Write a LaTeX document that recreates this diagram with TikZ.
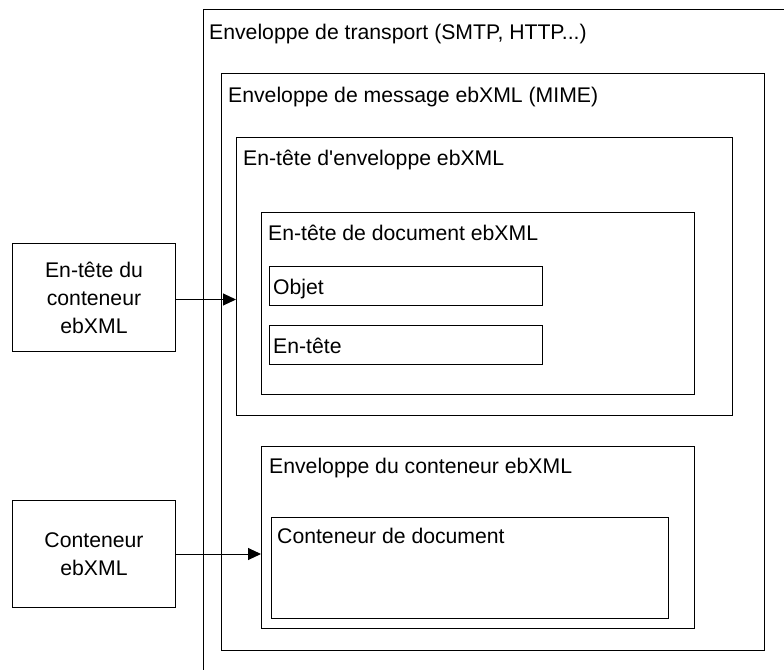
\documentclass[tikz,border=0pt]{standalone}
\usepackage{fontspec}
\setmainfont{Liberation Sans}[Ligatures=TeXOff]
\usetikzlibrary{arrows.meta}
\begin{document}
\begin{tikzpicture}[x=1pt,y=-1pt,
 box/.style={draw=black,line width=1pt,rectangle,inner sep=0pt,anchor=north west},
 lbl/.style={anchor=base west,inner sep=0pt,font=\fontsize{21.2}{25}\selectfont},
 ext/.style={box,align=center,font=\fontsize{21.2}{28}\selectfont},
 conn/.style={line width=1pt,-{Triangle[length=13pt,width=12pt]}}]
\useasboundingbox (0,0) rectangle (784,669);
\clip (0,0) rectangle (784,669);
\node[box,minimum width=620pt,minimum height=700pt] (transport) at (202.5,9) {};
\node[box,minimum width=543pt,minimum height=577pt] (message) at (221,73) {};
\node[box,minimum width=496pt,minimum height=278pt] (envhdr) at (236,137) {};
\node[box,minimum width=433pt,minimum height=182pt] (dochdr) at (261,212) {};
\node[box,minimum width=273pt,minimum height=39pt] (objet) at (269,266) {};
\node[box,minimum width=273pt,minimum height=39pt] (entete) at (269,325) {};
\node[box,minimum width=433pt,minimum height=182pt] (contenv) at (261,446) {};
\node[box,minimum width=397pt,minimum height=101pt] (doccont) at (271,517) {};
\node[ext,minimum width=163pt,minimum height=108pt] (left1) at (12,243) {En-tête du\\conteneur\\ebXML};
\node[ext,minimum width=163pt,minimum height=107pt] (left2) at (12,500) {Conteneur\\ebXML};
\node[lbl] (t1) at (209,40) {Enveloppe de transport (SMTP, HTTP...)};
\node[lbl] (t2) at (228,102) {Enveloppe de message ebXML (MIME)};
\node[lbl] (t3) at (243,165) {En-tête d'enveloppe ebXML};
\node[lbl] (t4) at (268,240) {En-tête de document ebXML};
\node[lbl] (t5) at (273,294) {Objet};
\node[lbl] (t6) at (273,353) {En-tête};
\node[lbl] (t7) at (269,473) {Enveloppe du conteneur ebXML};
\node[lbl] (t8) at (277,543) {Conteneur de document};
\draw[conn] ([yshift=-2pt]left1.east) -- ([yshift=-2pt]left1.east -| envhdr.west);
\draw[conn] (left2.east) -- (left2.east -| contenv.west);
\end{tikzpicture}
\end{document}
